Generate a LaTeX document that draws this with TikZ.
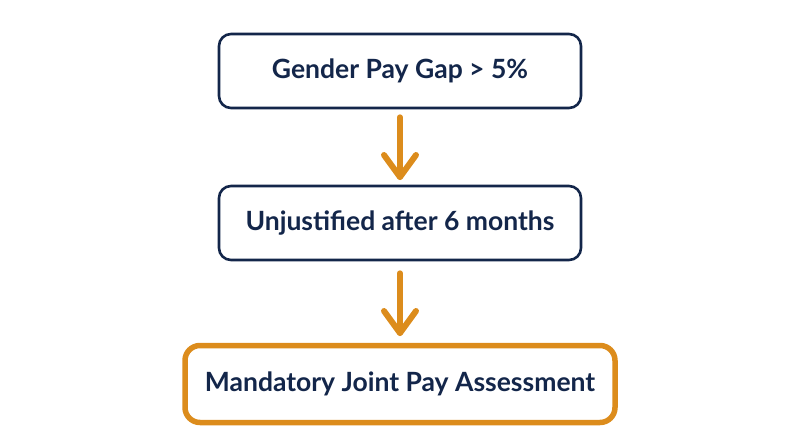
\documentclass[tikz,border=0pt]{standalone}
\usepackage{fontspec}
\setmainfont{Lato}
\definecolor{navy}{HTML}{13264A}
\definecolor{gold}{HTML}{DC8C1C}
\begin{document}
\begin{tikzpicture}[x=1pt,y=-1pt,
  box/.style={draw=navy,line width=2.6pt,rounded corners=12pt,fill=white,
    text=navy,font=\fontsize{26.5}{30}\selectfont\bfseries,inner sep=0pt},
  arr/.style={draw=gold,line width=6pt,line cap=round,line join=round}]
\useasboundingbox (0,0) rectangle (800,447);
\node[box,minimum width=362pt,minimum height=74pt] (a) at (400,71) {Gender Pay Gap > 5\%};
\node[box,minimum width=362pt,minimum height=74pt] (b) at (400,223) {Unjustified after 6 months};
\node[box,draw=gold,line width=5.5pt,rounded corners=15pt,minimum width=430pt,minimum height=77pt] (c) at (400,384) {Mandatory Joint Pay Assessment};
\coordinate (t1) at (400,177);
\coordinate (t2) at (400,333);
\draw[arr] ([yshift=-8pt]a.south) -- (t1);
\draw[arr] ([xshift=-16pt,yshift=22pt]t1) -- (t1) -- ([xshift=16pt,yshift=22pt]t1);
\draw[arr] ([yshift=-12pt]b.south) -- (t2);
\draw[arr] ([xshift=-16pt,yshift=22pt]t2) -- (t2) -- ([xshift=16pt,yshift=22pt]t2);
\end{tikzpicture}
\end{document}
